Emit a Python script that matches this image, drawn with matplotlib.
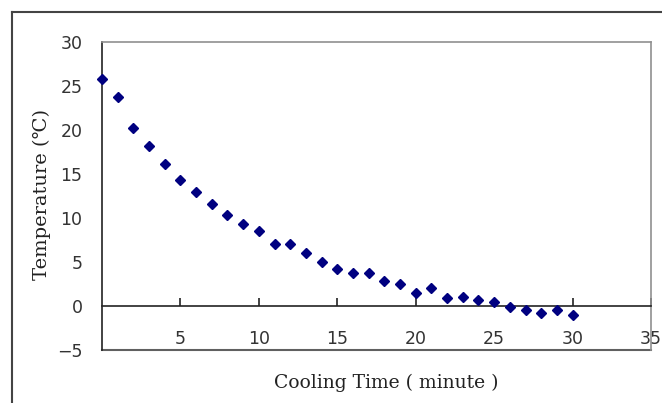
import matplotlib
matplotlib.use("Agg")
import matplotlib.pyplot as plt
from matplotlib.lines import Line2D

# cooling curve
minutes = list(range(0, 31))
temps = [25.8, 23.7, 20.2, 18.2, 16.1, 14.3, 12.9, 11.6, 10.3, 9.35,
         8.5, 7.1, 7.1, 6.0, 5.0, 4.2, 3.8, 3.8, 2.8, 2.5,
         1.5, 2.0, 0.9, 1.05, 0.7, 0.4, -0.1, -0.4, -0.8, -0.5, -1.0]
x_ticks = [5, 10, 15, 20, 25, 30, 35]
y_ticks = [-5, 0, 5, 10, 15, 20, 25, 30]

fig = plt.figure(figsize=(6.62, 4.03), dpi=100)
W, H = 662, 403
ax = fig.add_axes([102 / W, 1 - 350 / H, (651 - 102) / W, (350 - 42) / H])

ax.plot(minutes, temps, linestyle="none", marker="D", markersize=5,
        color="#000080", clip_on=False, zorder=5)

ax.set_xlim(0, 35)
ax.set_ylim(-5, 30)

# x axis crosses at zero, plot-area border drawn in gray
ax.spines["bottom"].set_position(("data", 0))
ax.spines["bottom"].set_color("#222222")
ax.spines["bottom"].set_linewidth(1.2)
ax.spines["left"].set_color("#222222")
ax.spines["left"].set_linewidth(1.2)
for s in ("top", "right"):
    ax.spines[s].set_color("#909090")
    ax.spines[s].set_linewidth(1.2)
ax.axhline(-5, color="#606060", lw=1.5, clip_on=False)

tick_font = {"family": "DejaVu Sans", "size": 12.5}
ax.set_xticks(x_ticks)
ax.set_xticklabels([str(t) for t in x_ticks], fontdict=tick_font, color="#333333")
ax.set_yticks(y_ticks)
ax.set_yticklabels([str(t).replace("-", "\u2212") for t in y_ticks],
                   fontdict=tick_font, color="#333333")
ax.tick_params(axis="x", direction="in", length=6, width=1.2, pad=17, color="#222222")
ax.tick_params(axis="y", length=0, pad=14)

label_family = ["DejaVu Serif", "Noto Sans CJK SC", "DejaVu Sans"]
fig.text(386 / W, 1 - 383 / H, "Cooling Time ( minute )", family=label_family,
         fontsize=13.5, ha="center", va="center", color="#222222")
fig.text(42 / W, 1 - 195 / H, "Temperature (℃)", family=label_family,
         fontsize=14, ha="center", va="center", rotation=90, color="#222222")

# outer chart frame (runs off the right and bottom of the picture)
fig.add_artist(Line2D([12 / W, 12 / W], [0, 1 - 12 / H], transform=fig.transFigure,
                      color="#444444", lw=1.5))
fig.add_artist(Line2D([12 / W, 1], [1 - 12 / H, 1 - 12 / H], transform=fig.transFigure,
                      color="#444444", lw=1.5))

fig.savefig("out.png", dpi=100)
